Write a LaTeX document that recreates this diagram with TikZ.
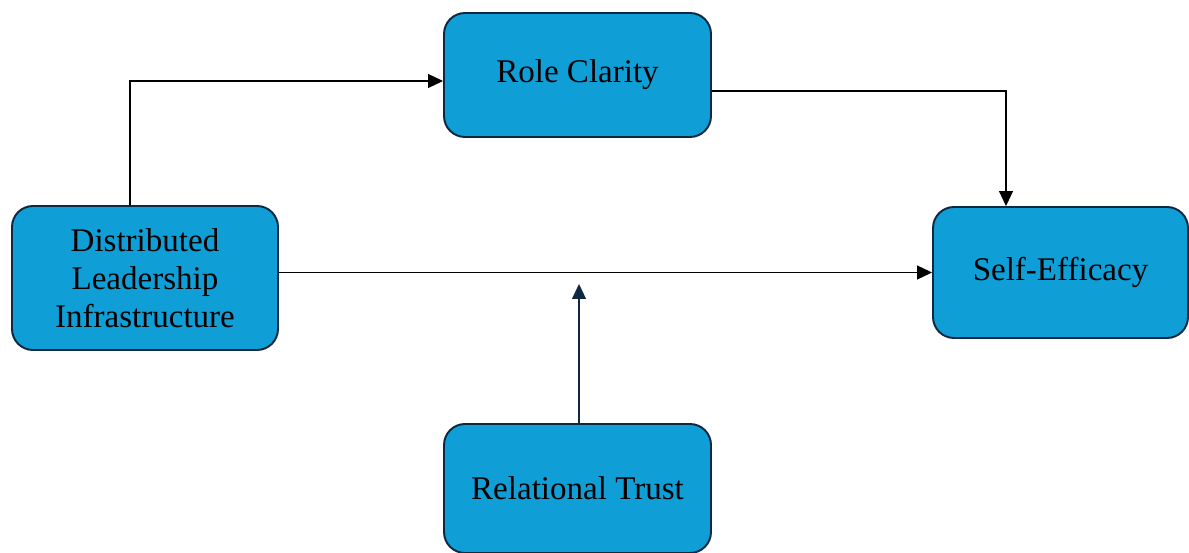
\documentclass[tikz,border=0pt]{standalone}
\usepackage{fontspec}
\setmainfont{Liberation Serif}
\usepackage{tikz}
\usetikzlibrary{arrows.meta}
\definecolor{boxblue}{HTML}{0F9ED5}
\definecolor{boxline}{HTML}{0E2841}

\begin{document}
\begin{tikzpicture}[>={Triangle[length=3mm,width=2.8mm]}, line width=0.6pt]
	\useasboundingbox (0,0) rectangle (23.78,-11.06);

	% boxes
	\begin{scope}[nodes={draw=boxline,line width=1.1pt,fill=boxblue,rounded corners=0.42cm,
		align=center,inner sep=0pt,font=\fontsize{18.8}{21.5}\selectfont}]
	\filldraw (11.55,-1.5) node[minimum width=5.34cm,minimum height=2.48cm] (rc) {Role Clarity};
	\filldraw (2.9,-5.56) node[minimum width=5.32cm,minimum height=2.88cm] (dl) {Distributed\\Leadership\\Infrastructure};
	\filldraw (21.21,-5.45) node[minimum width=5.1cm,minimum height=2.62cm] (se) {Self-Efficacy};
	\filldraw (11.55,-9.77) node[minimum width=5.34cm,minimum height=2.58cm] (rt) {Relational Trust};
	\end{scope}

	% nodes
	\coordinate (dlup) at ([xshift=-0.3cm]dl.north);
	\coordinate (rcin) at ([yshift=-0.12cm]rc.west);
	\coordinate (rcout) at ([yshift=-0.32cm]rc.east);
	\coordinate (sein) at ([xshift=-1.09cm]se.north);
	\coordinate (dlout) at (dl.east |- se.west);
	\coordinate (mid) at (11.58,-5.68);
	\draw [->] (dlup) |- (rcin);
	\draw [->] (rcout) -| (sein);
	\draw [->] (dlout) -- (se.west);
	\draw [->,boxline] (rt.north -| mid) -- (mid);
\end{tikzpicture}
\end{document}
